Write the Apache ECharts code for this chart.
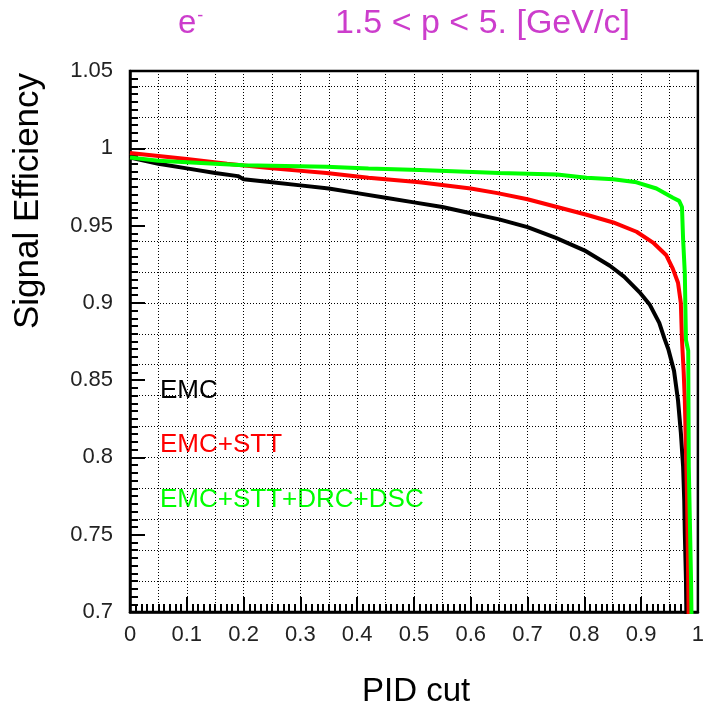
<!DOCTYPE html>
<html>
<head>
<meta charset="utf-8">
<script src="https://cdn.jsdelivr.net/npm/echarts@6/dist/echarts.min.js"></script>
<style>
    html, body { margin: 0; padding: 0; background: #fff; }
    #chart { width: 707px; height: 711px; }
</style>
</head>
<body>
<div id="chart"></div>
<script>
    // EMC only
    var emcCut = [0, 0.05, 0.10, 0.15, 0.19, 0.20, 0.25, 0.30, 0.35, 0.40, 0.45, 0.50, 0.55, 0.60, 0.65, 0.70, 0.75, 0.80, 0.845, 0.87, 0.897, 0.915, 0.932, 0.941, 0.948, 0.958, 0.965, 0.970, 0.974, 0.976, 0.977, 0.979, 0.980]
    var emcEff = [0.994, 0.990, 0.987, 0.984, 0.982, 0.980, 0.978, 0.976, 0.974, 0.971, 0.968, 0.965, 0.962, 0.958, 0.954, 0.949, 0.942, 0.934, 0.924, 0.917, 0.907, 0.899, 0.887, 0.877, 0.870, 0.856, 0.837, 0.816, 0.794, 0.772, 0.751, 0.721, 0.69]
    // EMC+STT
    var sttCut = [0, 0.05, 0.10, 0.171, 0.25, 0.346, 0.42, 0.51, 0.60, 0.647, 0.70, 0.752, 0.804, 0.851, 0.892, 0.921, 0.944, 0.956, 0.965, 0.970, 0.972, 0.975, 0.977, 0.981, 0.983, 0.984]
    var sttEff = [0.997, 0.995, 0.993, 0.990, 0.987, 0.984, 0.981, 0.978, 0.974, 0.971, 0.967, 0.962, 0.957, 0.952, 0.946, 0.939, 0.931, 0.922, 0.913, 0.900, 0.876, 0.855, 0.837, 0.772, 0.72, 0.69]
    // EMC+STT+DRC+DSC
    var allCut = [0, 0.05, 0.10, 0.20, 0.346, 0.42, 0.51, 0.65, 0.752, 0.804, 0.851, 0.892, 0.927, 0.956, 0.967, 0.972, 0.974, 0.977, 0.979, 0.983, 0.984, 0.988, 0.989]
    var allEff = [0.994, 0.992, 0.991, 0.989, 0.988, 0.987, 0.986, 0.984, 0.983, 0.981, 0.980, 0.978, 0.974, 0.968, 0.966, 0.962, 0.941, 0.919, 0.876, 0.869, 0.794, 0.72, 0.69]

    var seriesNames = ['EMC', 'EMC+STT', 'EMC+STT+DRC+DSC']
    var seriesColors = ['#000000', '#ff0000', '#00ff00']

    function pairs(xs, ys) {
        return xs.map(function (x, i) { return [x, ys[i]] })
    }

    var myChart = echarts.init(document.getElementById('chart'))
    var font = 'Liberation Sans, Arial, sans-serif'
    var dotted = { color: '#000', width: 1, type: [1, 2] }
    var titleColor = '#cc3dcc'

    var option = {
        animation: false,
        backgroundColor: '#fff',
        grid: {
            left: 130, right: 5, top: 71, bottom: 99,
            show: true, borderColor: '#000', borderWidth: 2.5, backgroundColor: 'transparent'
        },
        xAxis: [{
            type: 'value', min: 0, max: 1, interval: 0.1,
            axisLine: { show: true, lineStyle: { color: '#000', width: 2.5 } },
            axisTick: { show: true, inside: true, length: 15, lineStyle: { color: '#000', width: 2 } },
            minorTick: { show: true, splitNumber: 10, length: 8, lineStyle: { color: '#000', width: 2 } },
            axisLabel: {
                color: '#222', fontFamily: font, fontSize: 22, margin: 12,
                formatter: function (v) { return String(parseFloat(v.toFixed(2))) }
            },
            splitLine: { show: false }
        }, {
            type: 'value', min: 0, max: 1, interval: 0.05, position: 'top',
            axisLine: { show: false }, axisTick: { show: false }, axisLabel: { show: false },
            splitLine: { show: true, lineStyle: dotted }
        }],
        yAxis: [{
            type: 'value', min: 0.7, max: 1.05, interval: 0.05,
            axisLine: { show: true, lineStyle: { color: '#000', width: 2.5 } },
            axisTick: { show: true, inside: true, length: 15, lineStyle: { color: '#000', width: 2 } },
            minorTick: { show: true, splitNumber: 10, length: 8, lineStyle: { color: '#000', width: 2 } },
            axisLabel: {
                color: '#222', fontFamily: font, fontSize: 22, margin: 17,
                formatter: function (v) { return String(parseFloat(v.toFixed(2))) }
            },
            splitLine: { show: false }
        }, {
            type: 'value', min: 0.7, max: 1.05, interval: 0.02, position: 'right',
            axisLine: { show: false }, axisTick: { show: false }, axisLabel: { show: false },
            splitLine: { show: true, lineStyle: dotted }
        }],
        series: [
            { name: seriesNames[0], data: pairs(emcCut, emcEff) },
            { name: seriesNames[1], data: pairs(sttCut, sttEff) },
            { name: seriesNames[2], data: pairs(allCut, allEff) }
        ].map(function (s, i) {
            return {
                name: s.name, type: 'line', data: s.data, xAxisIndex: 0, yAxisIndex: 0,
                showSymbol: false, clip: true,
                lineStyle: { color: seriesColors[i], width: 4 },
                itemStyle: { color: seriesColors[i] }
            }
        }),
        graphic: [
            // titel oben
            {
                type: 'text', left: 178, top: 7,
                style: {
                    text: '{a|e}{b|-}',
                    rich: {
                        a: { fontFamily: font, fontSize: 33, fill: titleColor },
                        b: { fontFamily: font, fontSize: 18, fill: titleColor, verticalAlign: 'top', padding: [0, 0, 14, 1] }
                    }
                }
            },
            { type: 'text', left: 335, top: 7, style: { text: '1.5 < p < 5. [GeV/c]', fontFamily: font, fontSize: 34, fill: titleColor } },
            // achsentitel
            { type: 'text', left: 362, top: 675, style: { text: 'PID cut', fontFamily: font, fontSize: 33, fill: '#000' } },
            {
                type: 'text', x: 28, y: 201, rotation: Math.PI / 2,
                style: { text: 'Signal Efficiency', fontFamily: font, fontSize: 35, fill: '#000', align: 'center', verticalAlign: 'middle' }
            },
            // legende
            { type: 'text', left: 160, top: 378, style: { text: seriesNames[0], fontFamily: font, fontSize: 26, fill: seriesColors[0] } },
            { type: 'text', left: 160, top: 432, style: { text: seriesNames[1], fontFamily: font, fontSize: 26, fill: seriesColors[1] } },
            { type: 'text', left: 160, top: 487, style: { text: seriesNames[2], fontFamily: font, fontSize: 26, fill: seriesColors[2] } }
        ]
    }
    myChart.setOption(option)
</script>
</body>
</html>
